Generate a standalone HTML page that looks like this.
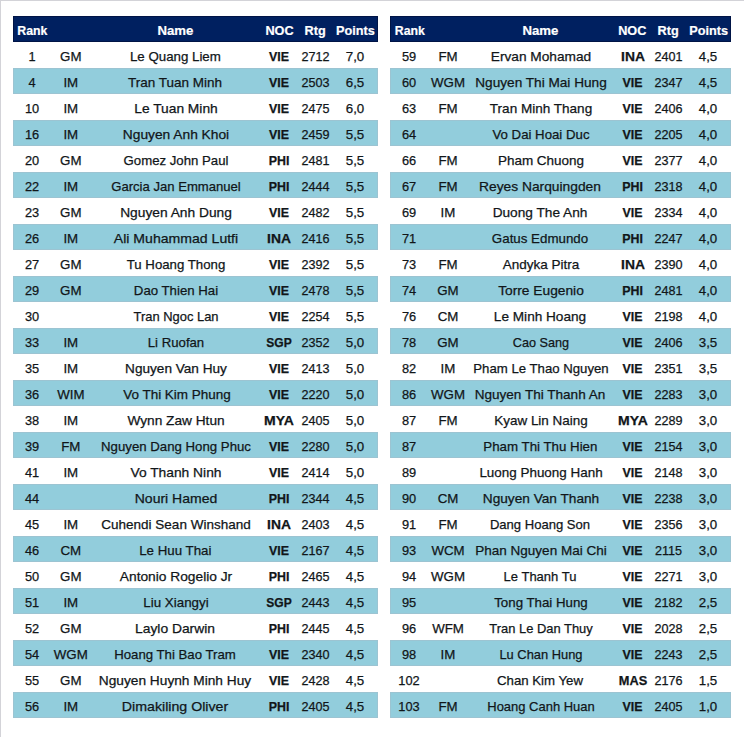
<!DOCTYPE html>
<html><head><meta charset="utf-8"><style>
html,body{margin:0;padding:0;}
body{width:744px;height:737px;background:#fff;position:relative;overflow:hidden;font-family:"Liberation Sans",sans-serif;font-size:13.3px;color:#111619;border-top:1px solid #d3d3d8;border-left:1px solid #d3d3d8;box-sizing:border-box;}
.t{position:absolute;top:15px;}
.h,.r{position:relative;height:26px;}
.h{background:#002060;color:#fff;font-weight:bold;box-shadow:inset 0 0 0 1px #001446;}
.b{background:#92cddc;box-shadow:inset 0 0 0 1px #9cc4d2;}
.h span,.r span{position:absolute;top:2px;width:240px;text-align:center;line-height:26px;white-space:nowrap;-webkit-text-stroke:0.2px currentColor;}
.r span{-webkit-text-stroke:0.25px currentColor;}
.h span{font-size:13px;}
.c0{font-size:12.8px;}
.c1{font-size:13.3px;}
.c2{font-size:13.3px;}
.c3{font-size:12.4px;font-weight:bold;}
.c4{font-size:12.6px;}
.c5{font-size:13.3px;}
</style></head><body>
<div class="t" style="left:12px;width:365px">
<div class="h"><span style="left:-100.7px;font-size:12.3px">Rank</span><span style="left:42.4px;font-size:13.2px">Name</span><span style="left:146.5px;font-size:12.7px">NOC</span><span style="left:182.2px;font-size:12.7px">Rtg</span><span style="left:222.5px;font-size:12.7px">Points</span></div>
<div class="r"><span class="c0" style="left:-101.0px">1</span><span class="c1" style="left:-62.2px">GM</span><span class="c2" style="left:42.4px;transform:scaleX(1.000)">Le Quang Liem</span><span class="c3" style="left:146.0px">VIE</span><span class="c4" style="left:182.5px">2712</span><span class="c5" style="left:222.0px">7,0</span></div>
<div class="r b"><span class="c0" style="left:-101.0px">4</span><span class="c1" style="left:-62.2px">IM</span><span class="c2" style="left:42.3px;transform:scaleX(1.015)">Tran Tuan Minh</span><span class="c3" style="left:146.0px">VIE</span><span class="c4" style="left:182.5px">2503</span><span class="c5" style="left:222.0px">6,5</span></div>
<div class="r"><span class="c0" style="left:-101.0px">10</span><span class="c1" style="left:-62.2px">IM</span><span class="c2" style="left:42.8px;transform:scaleX(1.036)">Le Tuan Minh</span><span class="c3" style="left:146.0px">VIE</span><span class="c4" style="left:182.5px">2475</span><span class="c5" style="left:222.0px">6,0</span></div>
<div class="r b"><span class="c0" style="left:-101.0px">16</span><span class="c1" style="left:-62.2px">IM</span><span class="c2" style="left:42.5px;transform:scaleX(1.035)">Nguyen Anh Khoi</span><span class="c3" style="left:146.0px">VIE</span><span class="c4" style="left:182.5px">2459</span><span class="c5" style="left:222.0px">5,5</span></div>
<div class="r"><span class="c0" style="left:-101.0px">20</span><span class="c1" style="left:-62.2px">GM</span><span class="c2" style="left:42.5px;transform:scaleX(0.992)">Gomez John Paul</span><span class="c3" style="left:146.0px">PHI</span><span class="c4" style="left:182.5px">2481</span><span class="c5" style="left:222.0px">5,5</span></div>
<div class="r b"><span class="c0" style="left:-101.0px">22</span><span class="c1" style="left:-62.2px">IM</span><span class="c2" style="left:43.0px;transform:scaleX(0.985)">Garcia Jan Emmanuel</span><span class="c3" style="left:146.0px">PHI</span><span class="c4" style="left:182.5px">2444</span><span class="c5" style="left:222.0px">5,5</span></div>
<div class="r"><span class="c0" style="left:-101.0px">23</span><span class="c1" style="left:-62.2px">GM</span><span class="c2" style="left:42.7px;transform:scaleX(1.035)">Nguyen Anh Dung</span><span class="c3" style="left:146.0px">VIE</span><span class="c4" style="left:182.5px">2482</span><span class="c5" style="left:222.0px">5,5</span></div>
<div class="r b"><span class="c0" style="left:-101.0px">26</span><span class="c1" style="left:-62.2px">IM</span><span class="c2" style="left:42.8px;transform:scaleX(1.058)">Ali Muhammad Lutfi</span><span class="c3" style="left:146.0px;transform:scaleX(1.12)">INA</span><span class="c4" style="left:182.5px">2416</span><span class="c5" style="left:222.0px">5,5</span></div>
<div class="r"><span class="c0" style="left:-101.0px">27</span><span class="c1" style="left:-62.2px">GM</span><span class="c2" style="left:43.1px;transform:scaleX(0.994)">Tu Hoang Thong</span><span class="c3" style="left:146.0px">VIE</span><span class="c4" style="left:182.5px">2392</span><span class="c5" style="left:222.0px">5,5</span></div>
<div class="r b"><span class="c0" style="left:-101.0px">29</span><span class="c1" style="left:-62.2px">GM</span><span class="c2" style="left:42.5px;transform:scaleX(0.995)">Dao Thien Hai</span><span class="c3" style="left:146.0px">VIE</span><span class="c4" style="left:182.5px">2478</span><span class="c5" style="left:222.0px">5,5</span></div>
<div class="r"><span class="c0" style="left:-101.0px">30</span><span class="c2" style="left:42.5px;transform:scaleX(0.972)">Tran Ngoc Lan</span><span class="c3" style="left:146.0px">VIE</span><span class="c4" style="left:182.5px">2254</span><span class="c5" style="left:222.0px">5,5</span></div>
<div class="r b"><span class="c0" style="left:-101.0px">33</span><span class="c1" style="left:-62.2px">IM</span><span class="c2" style="left:42.6px;transform:scaleX(0.991)">Li Ruofan</span><span class="c3" style="left:146.0px;transform:scaleX(0.97)">SGP</span><span class="c4" style="left:182.5px">2352</span><span class="c5" style="left:222.0px">5,0</span></div>
<div class="r"><span class="c0" style="left:-101.0px">35</span><span class="c1" style="left:-62.2px">IM</span><span class="c2" style="left:43.1px;transform:scaleX(1.022)">Nguyen Van Huy</span><span class="c3" style="left:146.0px">VIE</span><span class="c4" style="left:182.5px">2413</span><span class="c5" style="left:222.0px">5,0</span></div>
<div class="r b"><span class="c0" style="left:-101.0px">36</span><span class="c1" style="left:-62.2px">WIM</span><span class="c2" style="left:43.9px;transform:scaleX(1.014)">Vo Thi Kim Phung</span><span class="c3" style="left:146.0px">VIE</span><span class="c4" style="left:182.5px">2220</span><span class="c5" style="left:222.0px">5,0</span></div>
<div class="r"><span class="c0" style="left:-101.0px">38</span><span class="c1" style="left:-62.2px">IM</span><span class="c2" style="left:43.2px;transform:scaleX(1.029)">Wynn Zaw Htun</span><span class="c3" style="left:146.0px;transform:scaleX(1.13)">MYA</span><span class="c4" style="left:182.5px">2405</span><span class="c5" style="left:222.0px">5,0</span></div>
<div class="r b"><span class="c0" style="left:-101.0px">39</span><span class="c1" style="left:-62.2px">FM</span><span class="c2" style="left:43.3px;transform:scaleX(0.994)">Nguyen Dang Hong Phuc</span><span class="c3" style="left:146.0px">VIE</span><span class="c4" style="left:182.5px">2280</span><span class="c5" style="left:222.0px">5,0</span></div>
<div class="r"><span class="c0" style="left:-101.0px">41</span><span class="c1" style="left:-62.2px">IM</span><span class="c2" style="left:42.5px;transform:scaleX(1.037)">Vo Thanh Ninh</span><span class="c3" style="left:146.0px">VIE</span><span class="c4" style="left:182.5px">2414</span><span class="c5" style="left:222.0px">5,0</span></div>
<div class="r b"><span class="c0" style="left:-101.0px">44</span><span class="c2" style="left:43.1px;transform:scaleX(1.054)">Nouri Hamed</span><span class="c3" style="left:146.0px">PHI</span><span class="c4" style="left:182.5px">2344</span><span class="c5" style="left:222.0px">4,5</span></div>
<div class="r"><span class="c0" style="left:-101.0px">45</span><span class="c1" style="left:-62.2px">IM</span><span class="c2" style="left:42.9px;transform:scaleX(1.016)">Cuhendi Sean Winshand</span><span class="c3" style="left:146.0px;transform:scaleX(1.12)">INA</span><span class="c4" style="left:182.5px">2403</span><span class="c5" style="left:222.0px">4,5</span></div>
<div class="r b"><span class="c0" style="left:-101.0px">46</span><span class="c1" style="left:-62.2px">CM</span><span class="c2" style="left:42.3px;transform:scaleX(1.000)">Le Huu Thai</span><span class="c3" style="left:146.0px">VIE</span><span class="c4" style="left:182.5px">2167</span><span class="c5" style="left:222.0px">4,5</span></div>
<div class="r"><span class="c0" style="left:-101.0px">50</span><span class="c1" style="left:-62.2px">GM</span><span class="c2" style="left:42.5px;transform:scaleX(1.034)">Antonio Rogelio Jr</span><span class="c3" style="left:146.0px">PHI</span><span class="c4" style="left:182.5px">2465</span><span class="c5" style="left:222.0px">4,5</span></div>
<div class="r b"><span class="c0" style="left:-101.0px">51</span><span class="c1" style="left:-62.2px">IM</span><span class="c2" style="left:42.9px;transform:scaleX(1.003)">Liu Xiangyi</span><span class="c3" style="left:146.0px;transform:scaleX(0.97)">SGP</span><span class="c4" style="left:182.5px">2443</span><span class="c5" style="left:222.0px">4,5</span></div>
<div class="r"><span class="c0" style="left:-101.0px">52</span><span class="c1" style="left:-62.2px">GM</span><span class="c2" style="left:42.3px;transform:scaleX(1.041)">Laylo Darwin</span><span class="c3" style="left:146.0px">PHI</span><span class="c4" style="left:182.5px">2445</span><span class="c5" style="left:222.0px">4,5</span></div>
<div class="r b"><span class="c0" style="left:-101.0px">54</span><span class="c1" style="left:-62.2px">WGM</span><span class="c2" style="left:42.3px;transform:scaleX(0.993)">Hoang Thi Bao Tram</span><span class="c3" style="left:146.0px">VIE</span><span class="c4" style="left:182.5px">2340</span><span class="c5" style="left:222.0px">4,5</span></div>
<div class="r"><span class="c0" style="left:-101.0px">55</span><span class="c1" style="left:-62.2px">GM</span><span class="c2" style="left:42.0px;transform:scaleX(1.030)">Nguyen Huynh Minh Huy</span><span class="c3" style="left:146.0px">VIE</span><span class="c4" style="left:182.5px">2428</span><span class="c5" style="left:222.0px">4,5</span></div>
<div class="r b"><span class="c0" style="left:-101.0px">56</span><span class="c1" style="left:-62.2px">IM</span><span class="c2" style="left:41.9px;transform:scaleX(1.067)">Dimakiling Oliver</span><span class="c3" style="left:146.0px">PHI</span><span class="c4" style="left:182.5px">2405</span><span class="c5" style="left:222.0px">4,5</span></div>
</div>
<div class="t" style="left:389px;width:341px">
<div class="h"><span style="left:-100.2px;font-size:12.3px">Rank</span><span style="left:30.4px;font-size:13.2px">Name</span><span style="left:122.3px;font-size:12.7px">NOC</span><span style="left:158.2px;font-size:12.7px">Rtg</span><span style="left:198.6px;font-size:12.7px">Points</span></div>
<div class="r"><span class="c0" style="left:-101.0px">59</span><span class="c1" style="left:-62.0px">FM</span><span class="c2" style="left:30.6px;transform:scaleX(1.029)">Ervan Mohamad</span><span class="c3" style="left:122.5px;transform:scaleX(1.12)">INA</span><span class="c4" style="left:158.5px">2401</span><span class="c5" style="left:198.0px">4,5</span></div>
<div class="r b"><span class="c0" style="left:-101.0px">60</span><span class="c1" style="left:-62.0px">WGM</span><span class="c2" style="left:30.7px;transform:scaleX(1.024)">Nguyen Thi Mai Hung</span><span class="c3" style="left:122.5px">VIE</span><span class="c4" style="left:158.5px">2347</span><span class="c5" style="left:198.0px">4,5</span></div>
<div class="r"><span class="c0" style="left:-101.0px">63</span><span class="c1" style="left:-62.0px">FM</span><span class="c2" style="left:31.1px;transform:scaleX(1.018)">Tran Minh Thang</span><span class="c3" style="left:122.5px">VIE</span><span class="c4" style="left:158.5px">2406</span><span class="c5" style="left:198.0px">4,0</span></div>
<div class="r b"><span class="c0" style="left:-101.0px">64</span><span class="c2" style="left:30.9px;transform:scaleX(0.994)">Vo Dai Hoai Duc</span><span class="c3" style="left:122.5px">VIE</span><span class="c4" style="left:158.5px">2205</span><span class="c5" style="left:198.0px">4,0</span></div>
<div class="r"><span class="c0" style="left:-101.0px">66</span><span class="c1" style="left:-62.0px">FM</span><span class="c2" style="left:30.6px;transform:scaleX(1.014)">Pham Chuong</span><span class="c3" style="left:122.5px">VIE</span><span class="c4" style="left:158.5px">2377</span><span class="c5" style="left:198.0px">4,0</span></div>
<div class="r b"><span class="c0" style="left:-101.0px">67</span><span class="c1" style="left:-62.0px">FM</span><span class="c2" style="left:30.2px;transform:scaleX(1.037)">Reyes Narquingden</span><span class="c3" style="left:122.5px">PHI</span><span class="c4" style="left:158.5px">2318</span><span class="c5" style="left:198.0px">4,0</span></div>
<div class="r"><span class="c0" style="left:-101.0px">69</span><span class="c1" style="left:-62.0px">IM</span><span class="c2" style="left:30.3px;transform:scaleX(1.027)">Duong The Anh</span><span class="c3" style="left:122.5px">VIE</span><span class="c4" style="left:158.5px">2334</span><span class="c5" style="left:198.0px">4,0</span></div>
<div class="r b"><span class="c0" style="left:-101.0px">71</span><span class="c2" style="left:30.3px;transform:scaleX(1.002)">Gatus Edmundo</span><span class="c3" style="left:122.5px">PHI</span><span class="c4" style="left:158.5px">2247</span><span class="c5" style="left:198.0px">4,0</span></div>
<div class="r"><span class="c0" style="left:-101.0px">73</span><span class="c1" style="left:-62.0px">FM</span><span class="c2" style="left:31.1px;transform:scaleX(1.016)">Andyka Pitra</span><span class="c3" style="left:122.5px;transform:scaleX(1.12)">INA</span><span class="c4" style="left:158.5px">2390</span><span class="c5" style="left:198.0px">4,0</span></div>
<div class="r b"><span class="c0" style="left:-101.0px">74</span><span class="c1" style="left:-62.0px">GM</span><span class="c2" style="left:31.4px;transform:scaleX(1.034)">Torre Eugenio</span><span class="c3" style="left:122.5px">PHI</span><span class="c4" style="left:158.5px">2481</span><span class="c5" style="left:198.0px">4,0</span></div>
<div class="r"><span class="c0" style="left:-101.0px">76</span><span class="c1" style="left:-62.0px">CM</span><span class="c2" style="left:30.1px;transform:scaleX(1.023)">Le Minh Hoang</span><span class="c3" style="left:122.5px">VIE</span><span class="c4" style="left:158.5px">2198</span><span class="c5" style="left:198.0px">4,0</span></div>
<div class="r b"><span class="c0" style="left:-101.0px">78</span><span class="c1" style="left:-62.0px">GM</span><span class="c2" style="left:30.6px;transform:scaleX(0.951)">Cao Sang</span><span class="c3" style="left:122.5px">VIE</span><span class="c4" style="left:158.5px">2406</span><span class="c5" style="left:198.0px">3,5</span></div>
<div class="r"><span class="c0" style="left:-101.0px">82</span><span class="c1" style="left:-62.0px">IM</span><span class="c2" style="left:31.1px;transform:scaleX(0.992)">Pham Le Thao Nguyen</span><span class="c3" style="left:122.5px">VIE</span><span class="c4" style="left:158.5px">2351</span><span class="c5" style="left:198.0px">3,5</span></div>
<div class="r b"><span class="c0" style="left:-101.0px">86</span><span class="c1" style="left:-62.0px">WGM</span><span class="c2" style="left:30.4px;transform:scaleX(1.019)">Nguyen Thi Thanh An</span><span class="c3" style="left:122.5px">VIE</span><span class="c4" style="left:158.5px">2283</span><span class="c5" style="left:198.0px">3,0</span></div>
<div class="r"><span class="c0" style="left:-101.0px">87</span><span class="c1" style="left:-62.0px">FM</span><span class="c2" style="left:30.6px;transform:scaleX(1.011)">Kyaw Lin Naing</span><span class="c3" style="left:122.5px;transform:scaleX(1.13)">MYA</span><span class="c4" style="left:158.5px">2289</span><span class="c5" style="left:198.0px">3,0</span></div>
<div class="r b"><span class="c0" style="left:-101.0px">87</span><span class="c2" style="left:30.4px;transform:scaleX(1.000)">Pham Thi Thu Hien</span><span class="c3" style="left:122.5px">VIE</span><span class="c4" style="left:158.5px">2154</span><span class="c5" style="left:198.0px">3,0</span></div>
<div class="r"><span class="c0" style="left:-101.0px">89</span><span class="c2" style="left:31.1px;transform:scaleX(1.010)">Luong Phuong Hanh</span><span class="c3" style="left:122.5px">VIE</span><span class="c4" style="left:158.5px">2148</span><span class="c5" style="left:198.0px">3,0</span></div>
<div class="r b"><span class="c0" style="left:-101.0px">90</span><span class="c1" style="left:-62.0px">CM</span><span class="c2" style="left:30.9px;transform:scaleX(1.027)">Nguyen Van Thanh</span><span class="c3" style="left:122.5px">VIE</span><span class="c4" style="left:158.5px">2238</span><span class="c5" style="left:198.0px">3,0</span></div>
<div class="r"><span class="c0" style="left:-101.0px">91</span><span class="c1" style="left:-62.0px">FM</span><span class="c2" style="left:30.3px;transform:scaleX(0.982)">Dang Hoang Son</span><span class="c3" style="left:122.5px">VIE</span><span class="c4" style="left:158.5px">2356</span><span class="c5" style="left:198.0px">3,0</span></div>
<div class="r b"><span class="c0" style="left:-101.0px">93</span><span class="c1" style="left:-62.0px">WCM</span><span class="c2" style="left:30.6px;transform:scaleX(1.016)">Phan Nguyen Mai Chi</span><span class="c3" style="left:122.5px">VIE</span><span class="c4" style="left:158.5px">2115</span><span class="c5" style="left:198.0px">3,0</span></div>
<div class="r"><span class="c0" style="left:-101.0px">94</span><span class="c1" style="left:-62.0px">WGM</span><span class="c2" style="left:30.4px;transform:scaleX(0.978)">Le Thanh Tu</span><span class="c3" style="left:122.5px">VIE</span><span class="c4" style="left:158.5px">2271</span><span class="c5" style="left:198.0px">3,0</span></div>
<div class="r b"><span class="c0" style="left:-101.0px">95</span><span class="c2" style="left:31.3px;transform:scaleX(0.999)">Tong Thai Hung</span><span class="c3" style="left:122.5px">VIE</span><span class="c4" style="left:158.5px">2182</span><span class="c5" style="left:198.0px">2,5</span></div>
<div class="r"><span class="c0" style="left:-101.0px">96</span><span class="c1" style="left:-62.0px">WFM</span><span class="c2" style="left:31.2px;transform:scaleX(0.972)">Tran Le Dan Thuy</span><span class="c3" style="left:122.5px">VIE</span><span class="c4" style="left:158.5px">2028</span><span class="c5" style="left:198.0px">2,5</span></div>
<div class="r b"><span class="c0" style="left:-101.0px">98</span><span class="c1" style="left:-62.0px">IM</span><span class="c2" style="left:30.8px;transform:scaleX(0.969)">Lu Chan Hung</span><span class="c3" style="left:122.5px">VIE</span><span class="c4" style="left:158.5px">2243</span><span class="c5" style="left:198.0px">2,5</span></div>
<div class="r"><span class="c0" style="left:-101.0px">102</span><span class="c2" style="left:29.8px;transform:scaleX(0.995)">Chan Kim Yew</span><span class="c3" style="left:122.5px;transform:scaleX(1.03)">MAS</span><span class="c4" style="left:158.5px">2176</span><span class="c5" style="left:198.0px">1,5</span></div>
<div class="r b"><span class="c0" style="left:-101.0px">103</span><span class="c1" style="left:-62.0px">FM</span><span class="c2" style="left:31.0px;transform:scaleX(0.975)">Hoang Canh Huan</span><span class="c3" style="left:122.5px">VIE</span><span class="c4" style="left:158.5px">2405</span><span class="c5" style="left:198.0px">1,0</span></div>
</div>
</body></html>
